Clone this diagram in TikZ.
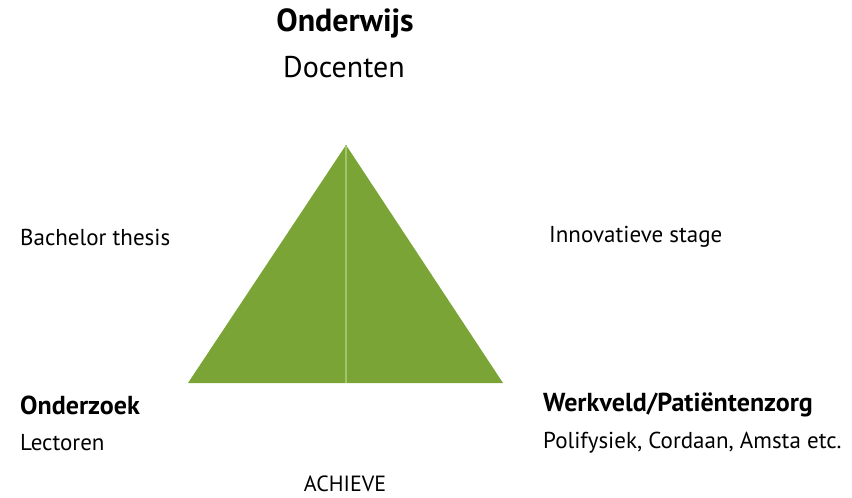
\documentclass[tikz,border=0pt]{standalone}
\usepackage{fontspec}
\setmainfont{PT Sans}
\usepackage{tikz}
\usetikzlibrary{positioning}
\usepackage{xcolor}
\definecolor{leafgreen}{HTML}{7BA437}
\definecolor{palegreen}{HTML}{A2C46A}

\tikzset{
  label/.style={inner sep=0pt, font=\fontsize{23}{26}\selectfont},
  title/.style={inner sep=0pt, font=\fontsize{26}{29}\selectfont\bfseries},
}

\begin{document}
\begin{tikzpicture}[x=1pt,y=-1pt]
   \useasboundingbox (0,0) rectangle (852,498);
   \coordinate (top) at (346,145);
   \coordinate (left) at (188,383);
   \coordinate (right) at (503,383);
   \coordinate (mid) at (346,383);
   \fill[leafgreen] (top) -- (right) -- (left) -- cycle;
   \draw[palegreen, line width=1.2pt] (top) -- (mid);

   \node[title, font=\fontsize{32}{36}\selectfont\bfseries] (onderwijs) at (345,23) {Onderwijs};
   \node[label, font=\fontsize{30}{34}\selectfont] (docenten) at (344,67) {Docenten};
   \node[label, anchor=west] (thesis) at (20,237) {Bachelor thesis};
   \node[label, anchor=west] (stage) at (549,237) {Innovatieve stage};
   \node[title, anchor=west] (onderzoek) at (20,405) {Onderzoek};
   \node[label, anchor=west] (lectoren) at (20,443) {Lectoren};
   \node[title, anchor=west] (werkveld) at (543,405) {Werkveld/Patiëntenzorg};
   \node[label, anchor=west] (polifysiek) at (543,443) {Polifysiek, Cordaan, Amsta etc.};
   \node[label, font=\fontsize{22}{25}\selectfont] (achieve) at (345,484) {ACHIEVE};
\end{tikzpicture}
\end{document}
